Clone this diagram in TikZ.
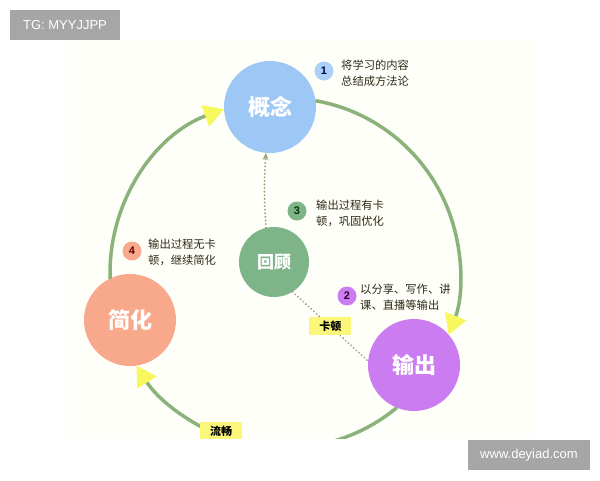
\documentclass[tikz,border=0pt]{standalone}
\usepackage{fontspec}
\setmainfont{Liberation Sans}
\newfontfamily\cjk{Noto Sans CJK SC}
\usetikzlibrary{arrows.meta}
\definecolor{cream}{HTML}{FFFFF9}
\definecolor{arcgreen}{HTML}{8AB27A}
\definecolor{tipyellow}{HTML}{F7F75E}
\definecolor{cblue}{HTML}{9DC8F6}
\definecolor{cgreen}{HTML}{7DB589}
\definecolor{csalmon}{HTML}{F8A88B}
\definecolor{cpurple}{HTML}{CB7CF0}
\definecolor{dotcol}{HTML}{9CA27A}
\definecolor{txtcol}{HTML}{2E2A18}
\definecolor{wmgray}{HTML}{A6A6A6}
\definecolor{lblyellow}{HTML}{FAF77A}
\begin{document}
\begin{tikzpicture}[x=1pt,y={(0pt,-1pt)},
  bigc/.style={circle, minimum size=92pt, inner sep=0pt, text=white,
    font=\cjk\bfseries\fontsize{22}{24}\selectfont},
  badge/.style={circle, minimum size=19pt, inner sep=0pt,
    font=\bfseries\fontsize{11}{12}\selectfont},
  note/.style={anchor=west, inner sep=0pt, align=left, text=txtcol,
    font=\cjk\fontsize{11.3}{16}\selectfont},
  lbl/.style={fill=lblyellow, minimum width=42pt, minimum height=18pt, inner sep=0pt,
    font=\cjk\bfseries\fontsize{11}{12}\selectfont},
  cyc/.style={draw=arcgreen, line width=3.5pt,
    -{Triangle[length=20pt,width=22pt,color=tipyellow]}},
  dotline/.style={draw=dotcol, line width=2pt, dash pattern=on 0.1pt off 3.5pt, line cap=round},
  wm/.style={fill=wmgray, text=white, inner sep=0pt, font=\fontsize{13}{14}\selectfont}
]
\useasboundingbox (0,0) rectangle (600,480);
\fill[white] (0,0) rectangle (600,480);
\fill[cream] (65,40) rectangle (533,438);

% main circles
\node[bigc, fill=cblue] (gainian) at (270,107) {概念};
\node[bigc, fill=csalmon] (jianhua) at (130,320) {简化};
\node[bigc, fill=cpurple] (shuchu) at (414,365) {输出};
\node[bigc, fill=cgreen, minimum size=70pt, font=\cjk\bfseries\fontsize{17}{19}\selectfont] (huigu) at (274,262) {回顾};

\coordinate (C) at (285,273);

% cycle arcs
\draw[cyc] (C) ++(178.1:175) arc[start angle=178.1, end angle=249.6, radius=175];
\draw[cyc] (C) ++(280:175) arc[start angle=280, end angle=380.7, radius=175];
\begin{scope}
  \clip (0,0) rectangle (600,438);
  \draw[cyc] (C) ++(50.3:175) arc[start angle=50.3, end angle=148.1, radius=175];
  \node[lbl] (liuchang) at (221,431) {流畅};
\end{scope}

% dotted connectors
\draw[dotline, -{Stealth[length=7pt,width=6pt,fill=dotcol]}] (huigu.103) to[bend left=4] (gainian.265);
\draw[dotline] (huigu.-58) -- node[lbl, pos=0.5] (kadun) {卡顿} (shuchu.175);

% badges and notes
\node[badge, fill=cblue!85!white, text=blue!30!black] (b1) at (324,71) {1};
\node[note] (n1) at (341,73.5) {将学习的内容\\总结成方法论};
\node[badge, fill=cpurple, text=violet!40!black] (b2) at (347,296) {2};
\node[note] (n2) at (360,297.5) {以分享、写作、讲\\课、直播等输出};
\node[badge, fill=cgreen, text=green!20!black] (b3) at (297,211) {3};
\node[note] (n3) at (316,213) {输出过程有卡\\顿，巩固优化};
\node[badge, fill=csalmon, text=red!40!black] (b4) at (132,251) {4};
\node[note] (n4) at (148,252) {输出过程无卡\\顿，继续简化};

% watermarks
\node[wm, minimum width=110pt, minimum height=30pt] (tg) at (65,25) {TG: MYYJJPP};
\node[wm, minimum width=122pt, minimum height=30pt] (web) at (529,455) {www.deyiad.com};
\end{tikzpicture}
\end{document}
